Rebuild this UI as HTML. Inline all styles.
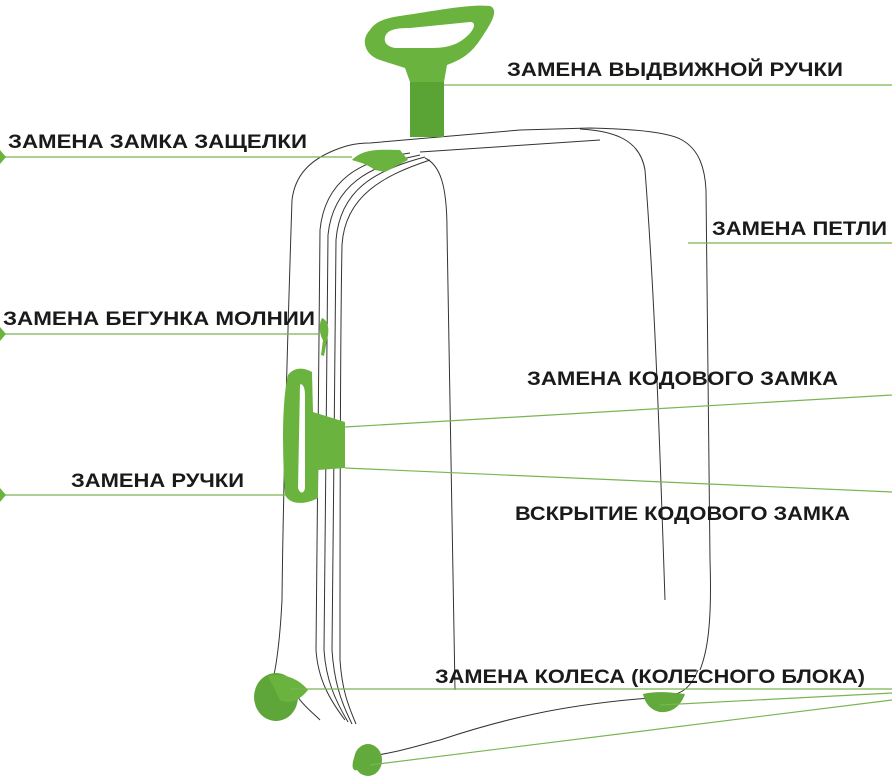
<!DOCTYPE html>
<html><head><meta charset="utf-8"><style>
html,body{margin:0;padding:0;background:#fff;width:892px;height:783px;overflow:hidden}
text{font-family:"Liberation Sans",sans-serif;font-weight:bold;font-size:19px;fill:#1a1a1a}
</style></head><body>
<svg width="892" height="783" viewBox="0 0 892 783" xmlns="http://www.w3.org/2000/svg">
<g fill="none" stroke="#333" stroke-width="1">
<!-- outer left edge -->
<path d="M335,150 C310,160 295,175 292,200 C288,320 283,500 282,600 C280,640 276,670 272,682"/>
<!-- top ridge -->
<path d="M335,150 C345,146 355,143 370,143 L520,130 L590,128 C640,129 670,133 682,140 C700,150 705,170 706,190 C708,300 708,450 710,560 C712,620 708,650 700,670"/>
<path d="M580,129 C615,131 640,140 645,170 C655,300 660,450 665,600"/>
<!-- zipper lines -->
<path d="M410,153 C360,160 325,180 320,230 C318,350 318,520 316,650 C318,680 330,700 345,720"/>
<path d="M420,155 C370,165 333,185 328,235 C326,350 326,520 324,650 C326,680 335,700 348,722"/>
<path d="M425,157 C375,170 340,190 336,240 C334,350 334,520 332,650 C334,680 340,700 352,724"/>
<path d="M430,160 C385,175 345,195 342,245 C340,350 340,520 340,660 C342,690 348,705 356,724"/>
<!-- front panel right contour -->
<path d="M425,158 C440,165 447,185 447,230 C449,400 452,550 455,690"/>
<path d="M420,152 L600,140"/>
<!-- bottom -->
<path d="M360,757 C390,755 420,745 440,740 C500,720 560,705 650,698 C680,697 690,690 698,670"/>
<path d="M290,680 C295,700 310,710 320,720"/>
</g>
<!-- handle -->
<path d="M370,30 C360,40 365,55 380,60 L405,68 L410,82 L444,82 L447,65 C460,60 470,55 480,40 C490,25 500,10 490,6 C470,4 440,10 400,16 C385,18 375,22 370,30 Z M385,37 C387,30 395,28 410,28 L470,22 C478,22 473,32 465,38 C455,46 445,48 430,48 L395,48 C386,46 384,42 385,37 Z" fill="#6bb33f" fill-rule="evenodd"/>
<rect x="410" y="82" width="34" height="55" fill="#5aa435"/>
<!-- latch -->
<path d="M352,160 C362,150 375,149 400,150 L408,160 L385,172 L375,170 C365,163 358,162 352,160 Z" fill="#6bb33f"/>
<!-- zipper puller -->
<path d="M322,318 C318,325 320,336 323,340 L321,355 L324,356 L327,340 C330,330 328,320 322,318 Z" fill="#6bb33f"/>
<!-- side handle -->
<path d="M288,375 C295,366 305,368 312,372 L313,412 L345,422 L345,468 L318,470 L318,498 C305,505 290,505 285,495 C282,450 282,400 288,375 Z M300,385 L298,488 C300,494 304,494 305,488 L305,395 C305,385 301,383 300,385 Z" fill="#6bb33f" fill-rule="evenodd"/>
<!-- wheels -->
<ellipse cx="276" cy="697" rx="22" ry="24" fill="#5fa63a"/>
<path d="M268,676 C285,672 300,680 308,690 C300,700 290,705 280,700 Z" fill="#6bb33f"/>
<path d="M643,694 C655,691 668,692 685,694 C680,708 670,713 660,712 C650,710 645,703 643,694 Z" fill="#62aa3b"/>
<path d="M360,748 C375,752 385,755 360,768 C355,773 350,770 354,758 Z" fill="#62aa3b"/>
<ellipse cx="368" cy="760" rx="14" ry="16" fill="#62aa3b"/>
<!-- connector lines -->
<g stroke="#7ab552" stroke-width="1.2" fill="none">
<line x1="444" y1="85" x2="892" y2="85"/>
<line x1="0" y1="157" x2="352" y2="157"/>
<line x1="688" y1="243" x2="892" y2="243"/>
<line x1="0" y1="334" x2="320" y2="334"/>
<line x1="345" y1="427" x2="892" y2="395"/>
<line x1="0" y1="495" x2="285" y2="495"/>
<line x1="345" y1="468" x2="892" y2="492"/>
<line x1="290" y1="689" x2="892" y2="689"/>
<line x1="660" y1="705" x2="892" y2="693"/>
<line x1="370" y1="765" x2="892" y2="700"/>
</g>
<g fill="#6bb33f">
<path d="M0,150 L6,157 L0,164 Z"/><path d="M0,327 L6,334 L0,341 Z"/><path d="M0,488 L6,495 L0,502 Z"/>
</g>
<text x="507" y="76" textLength="336" lengthAdjust="spacingAndGlyphs">ЗАМЕНА ВЫДВИЖНОЙ РУЧКИ</text>
<text x="8" y="148" textLength="299" lengthAdjust="spacingAndGlyphs">ЗАМЕНА ЗАМКА ЗАЩЕЛКИ</text>
<text x="712" y="235" textLength="175" lengthAdjust="spacingAndGlyphs">ЗАМЕНА ПЕТЛИ</text>
<text x="3" y="325" textLength="312" lengthAdjust="spacingAndGlyphs">ЗАМЕНА БЕГУНКА МОЛНИИ</text>
<text x="527" y="385" textLength="311" lengthAdjust="spacingAndGlyphs">ЗАМЕНА КОДОВОГО ЗАМКА</text>
<text x="71" y="487" textLength="173" lengthAdjust="spacingAndGlyphs">ЗАМЕНА РУЧКИ</text>
<text x="515" y="520" textLength="335" lengthAdjust="spacingAndGlyphs">ВСКРЫТИЕ КОДОВОГО ЗАМКА</text>
<text x="435" y="683" textLength="430" lengthAdjust="spacingAndGlyphs">ЗАМЕНА КОЛЕСА (КОЛЕСНОГО БЛОКА)</text>
</svg>
</body></html>
